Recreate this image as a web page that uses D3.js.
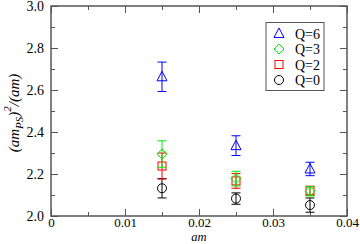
<!DOCTYPE html>
<html><head><meta charset="utf-8">
<script src="https://cdn.jsdelivr.net/npm/d3@7"></script>
<style>body{margin:0;background:#fff}svg{display:block}</style>
</head><body>
<script>
const amValues = [0.015, 0.025, 0.035];
const seriesNames = ["Q=0", "Q=2", "Q=3", "Q=6"];
const q0 = [2.132, 2.083, 2.052];
const q0err = [0.046, 0.027, 0.034];
const q2 = [2.238, 2.167, 2.12];
const q2err = [0.062, 0.035, 0.022];
const q3 = [2.295, 2.178, 2.118];
const q3err = [0.063, 0.035, 0.022];
const q6 = [2.663, 2.335, 2.224];
const q6err = [0.07, 0.047, 0.032];
const xTicks = [0, 0.01, 0.02, 0.03, 0.04];
const yTicks = [2.0, 2.2, 2.4, 2.6, 2.8, 3.0];

const FONT = "'Liberation Serif', 'DejaVu Serif', serif";
const W = 360, H = 244;
const m = {l: 51, r: 347, t: 6, b: 216};
const svg = d3.select("body").append("svg").attr("width", W).attr("height", H);
const x = d3.scaleLinear().domain([0, 0.04]).range([m.l, m.r]);
const y = d3.scaleLinear().domain([2.0, 3.0]).range([m.b, m.t]);
const axisCol = "#555";

const xMinor = d3.range(0, 0.0401, 0.005);
const yMinor = d3.range(2.0, 3.001, 0.1);
const g = svg.append("g");
function add(tr, axis, fs) {
  const a = g.append("g").attr("transform", tr).call(axis).call(s => s.select(".domain").remove());
  a.attr("font-family", FONT).attr("font-size", fs);
  a.selectAll(".tick text").attr("fill", "#000").attr("font-family", FONT).attr("font-size", fs);
}
add(`translate(0,${m.b})`, d3.axisBottom(x).tickValues(xTicks).tickSize(-7).tickFormat(d => d === 0 ? "0" : d3.format(".2f")(d)).tickPadding(2), 13);
add(`translate(0,${m.b})`, d3.axisBottom(x).tickValues(xMinor).tickSize(-4).tickFormat(""), 13);
add(`translate(0,${m.t})`, d3.axisTop(x).tickValues(xTicks).tickSize(-7).tickFormat(""), 13);
add(`translate(0,${m.t})`, d3.axisTop(x).tickValues(xMinor).tickSize(-4).tickFormat(""), 13);
add(`translate(${m.l},0)`, d3.axisLeft(y).tickValues(yTicks).tickSize(-7).tickFormat(d3.format(".1f")).tickPadding(7), 14);
add(`translate(${m.l},0)`, d3.axisLeft(y).tickValues(yMinor).tickSize(-4).tickFormat(""), 13);
add(`translate(${m.r},0)`, d3.axisRight(y).tickValues(yTicks).tickSize(-7).tickFormat(""), 13);
add(`translate(${m.r},0)`, d3.axisRight(y).tickValues(yMinor).tickSize(-4).tickFormat(""), 13);
g.selectAll(".tick line").attr("stroke", axisCol).attr("stroke-width", 1);

svg.append("rect").attr("x", m.l).attr("y", m.t).attr("width", m.r - m.l).attr("height", m.b - m.t)
  .attr("fill", "none").attr("stroke", axisCol).attr("stroke-width", 1.5);

svg.append("text").attr("x", (m.l + m.r) / 2).attr("y", 240.5).attr("text-anchor", "middle")
  .attr("font-family", FONT).attr("font-size", 12.5).attr("font-style", "italic").text("am");
const yl = svg.append("text").attr("transform", `translate(19,${(m.t + m.b) / 2 + 2}) rotate(-90)`)
  .attr("text-anchor", "middle").attr("font-family", FONT).attr("font-size", 15).attr("font-style", "italic");
yl.append("tspan").text("(am");
yl.append("tspan").attr("dy", 4).attr("font-size", 11).text("PS");
yl.append("tspan").attr("dy", -4).text(")");
yl.append("tspan").attr("dy", -8).attr("font-size", 11).text("2");
yl.append("tspan").attr("dy", 8).text("/(am)");

function sym(sel, type, color) {
  if (type === "circle") sel.append("circle").attr("r", 4.5).attr("fill", "none").attr("stroke", color);
  else if (type === "square") sel.append("rect").attr("x", -4).attr("y", -4).attr("width", 8).attr("height", 8).attr("fill", "none").attr("stroke", color);
  else if (type === "diamond") sel.append("path").attr("d", "M0,-5L5,0L0,5L-5,0Z").attr("fill", "none").attr("stroke", color);
  else if (type === "triangle") sel.append("path").attr("d", "M0,-5.5L5,4L-5,4Z").attr("fill", "none").attr("stroke", color);
}
const series = [
  {name: seriesNames[0], vals: q0, errs: q0err, color: "#000", type: "circle"},
  {name: seriesNames[1], vals: q2, errs: q2err, color: "#ff0000", type: "square"},
  {name: seriesNames[2], vals: q3, errs: q3err, color: "#00ee00", type: "diamond"},
  {name: seriesNames[3], vals: q6, errs: q6err, color: "#0000ff", type: "triangle"}
];
series.forEach(s => {
  const gs = svg.append("g");
  amValues.forEach((a, i) => {
    const cx = x(a), v = s.vals[i], e = s.errs[i];
    const p = gs.append("g").attr("stroke-width", 1);
    p.append("line").attr("x1", cx).attr("x2", cx).attr("y1", y(v + e)).attr("y2", y(v - e)).attr("stroke", s.color);
    [v + e, v - e].forEach(t => p.append("line").attr("x1", cx - 4.5).attr("x2", cx + 4.5).attr("y1", y(t)).attr("y2", y(t)).attr("stroke", s.color));
    sym(p.append("g").attr("transform", `translate(${cx},${y(v)})`), s.type, s.color);
  });
});

const lg = svg.append("g");
lg.append("rect").attr("x", 266).attr("y", 22.5).attr("width", 58).attr("height", 68)
  .attr("fill", "#fff").attr("stroke", axisCol).attr("stroke-width", 1);
const legendOrder = [3, 2, 1, 0];
legendOrder.forEach((k, i) => {
  const s = series[k];
  const ly = 33.5 + i * 15.5;
  sym(lg.append("g").attr("transform", `translate(279,${ly})`), s.type, s.color);
  lg.append("text").attr("x", 295).attr("y", ly + 5).attr("font-family", FONT).attr("font-size", 14).text(s.name);
});
</script>
</body></html>
